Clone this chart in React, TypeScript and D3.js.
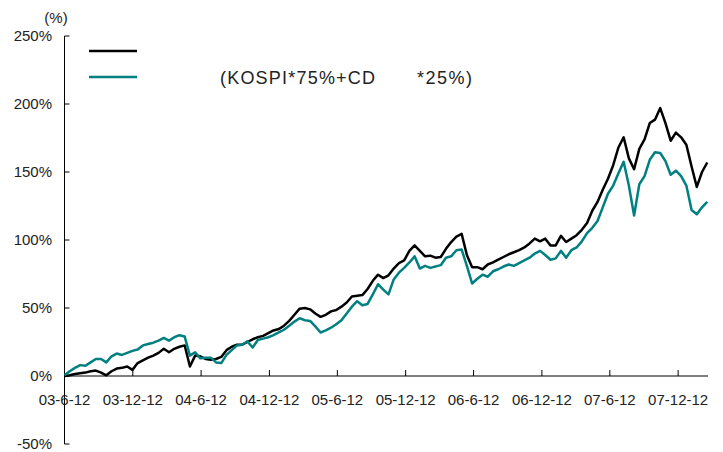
import React from 'react';
import * as d3 from 'd3';

// cumulative return (%), sampled every 14 days from 2003-06-12
const START = new Date(2003, 5, 12);
const END = new Date(2008, 2, 1);
const STEP_DAYS = 14;

const kospi = [
  0, 0.5, 1.5, 2, 2.5, 3.5, 4, 2.5, 0.5, 3.5,
  5.5, 6, 7, 4.5, 9.5, 11.5, 13.5, 15, 17, 20,
  17.5, 20, 21.5, 22.5, 7, 15, 14.5, 12.5, 12, 12.5,
  14, 19, 21.5, 23, 23, 25, 27, 28.5, 29.5, 31.5,
  33.5, 34.5, 37, 40.5, 45, 49.5, 50, 49, 46, 43.5,
  45, 47.5, 48.5, 51, 54, 58.5, 59, 59.5, 64, 70,
  74.5, 72, 74, 79, 83, 85, 92, 96, 92, 88,
  88.5, 87, 87.5, 93.5, 98.5, 102.5, 104.5, 89, 80, 80,
  78.5, 82, 83.5, 85.5, 87.5, 89.5, 91, 92.5, 94.5, 97.5,
  101, 99, 101, 96, 96, 103, 98.5, 101, 103.5, 107.5,
  112.5, 121.5, 128, 137, 145, 155, 168, 175.5, 160, 152,
  167, 174, 186, 188.5, 197, 186, 173, 179, 175.5, 170,
  154, 139, 150, 157,
];

const mixed = [
  0.5, 3.5, 6, 8, 7.5, 10, 12.5, 12.5, 10, 14.5,
  16.5, 15.5, 17, 18.5, 19.5, 22.5, 23.5, 24.5, 26, 28,
  26, 28.5, 30, 29, 15, 17.5, 13, 13.5, 13.5, 10,
  9.5, 15.5, 19, 22.5, 23, 25.5, 21, 26.5, 27.5, 28.5,
  30, 32, 34, 37, 40, 42.5, 41, 40.5, 36.5, 32,
  33.5, 35.5, 38, 41, 46, 51, 55, 52, 53, 60,
  67.5, 63.5, 60, 71, 76, 79.5, 83.5, 88, 79, 81,
  79.5, 80.5, 81.5, 87, 88, 92.5, 93, 81, 68, 71.5,
  74.5, 73, 77, 78.5, 80.5, 82, 81, 83, 85, 87,
  90, 92, 89, 85.5, 86.5, 92, 87, 92.5, 94.5, 99,
  105, 109, 114, 124, 134, 140, 149, 157.5, 140, 118,
  141, 147, 159, 164.5, 164, 158, 148, 151, 147, 140,
  122, 119, 124, 128,
];

const yTicks = [250, 200, 150, 100, 50, 0, -50];
const xTickDates = [
  '2003-06-12', '2003-12-12', '2004-06-12', '2004-12-12', '2005-06-12',
  '2005-12-12', '2006-06-12', '2006-12-12', '2007-06-12', '2007-12-12',
];
const xTickLabels = [
  '03-6-12', '03-12-12', '04-6-12', '04-12-12', '05-6-12',
  '05-12-12', '06-6-12', '06-12-12', '07-6-12', '07-12-12',
];

const BLACK = '#000000';
const TEAL = '#008080';
const FONT = '"Liberation Sans", Arial, sans-serif';

export default function App() {
  const width = 723;
  const height = 452;
  const x = d3.scaleTime().domain([START, END]).range([64.5, 708]);
  const y = d3.scaleLinear().domain([-50, 250]).range([444, 36]);
  const dates = kospi.map((_, i) => d3.timeDay.offset(START, i * STEP_DAYS));
  const parse = d3.timeParse('%Y-%m-%d');

  const line = d3
    .line<number>()
    .x((_, i) => x(dates[i]))
    .y((d) => y(d));

  return (
    <svg
      width={width}
      height={height}
      style={{ position: 'absolute', left: 0, top: 0, background: '#fff' }}
      fontFamily={FONT}
    >
      {/* y axis */}
      <line x1={64.5} x2={64.5} y1={y(250)} y2={y(-50)} stroke="#000" strokeWidth={1} />
      {yTicks.map((t) => (
        <g key={t}>
          <line x1={64.5} x2={69.5} y1={y(t)} y2={y(t)} stroke="#000" strokeWidth={1} />
          <text x={52} y={y(t)} dy="0.36em" textAnchor="end" fontSize={15} fill="#222">
            {t}%
          </text>
        </g>
      ))}
      <text x={56} y={23} textAnchor="middle" fontSize={15} fill="#222">(%)</text>

      {/* x axis at 0% */}
      <line x1={64.5} x2={708} y1={y(0)} y2={y(0)} stroke="#000" strokeWidth={1} />
      {xTickDates.map((d, i) => {
        const px = x(parse(d)!);
        return (
          <g key={d}>
            {i > 0 && <line x1={px} x2={px} y1={y(0)} y2={y(0) - 6} stroke="#000" strokeWidth={1} />}
            <text x={px} y={405} textAnchor="middle" fontSize={15} fill="#222">
              {xTickLabels[i]}
            </text>
          </g>
        );
      })}

      {/* series */}
      <path d={line(kospi) ?? ''} fill="none" stroke={BLACK} strokeWidth={2.5} strokeLinejoin="round" />
      <path d={line(mixed) ?? ''} fill="none" stroke={TEAL} strokeWidth={2.5} strokeLinejoin="round" />

      {/* legend */}
      <line x1={89} x2={137} y1={51} y2={51} stroke={BLACK} strokeWidth={2.5} />
      <line x1={89} x2={137} y1={77} y2={77} stroke={TEAL} strokeWidth={2.5} />
      <text x={220} y={84} fontSize={18} fill="#222" textLength={155} lengthAdjust="spacing">
        (KOSPI*75%+CD
      </text>
      <text x={417} y={84} fontSize={18} fill="#222" textLength={55} lengthAdjust="spacing">
        *25%)
      </text>
    </svg>
  );
}
